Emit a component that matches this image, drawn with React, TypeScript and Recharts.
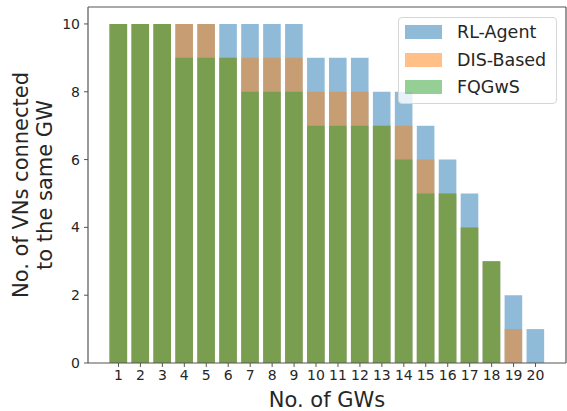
import { BarChart, Bar, XAxis, YAxis, Legend } from "recharts";

const GWS = ["1", "2", "3", "4", "5", "6", "7", "8", "9", "10", "11", "12", "13", "14", "15", "16", "17", "18", "19", "20"];
const RL_AGENT = [10, 10, 10, 10, 10, 10, 10, 10, 10, 9, 9, 9, 8, 8, 7, 6, 5, 3, 2, 1];
const DIS_BASED = [10, 10, 10, 10, 10, 9, 9, 9, 9, 8, 8, 8, 7, 7, 6, 5, 4, 3, 1, 0];
const FQGWS = [10, 10, 10, 9, 9, 9, 8, 8, 8, 7, 7, 7, 7, 6, 5, 5, 4, 3, 0, 0];
const Y_TICKS = [0, 2, 4, 6, 8, 10];

const SERIES = [
  { key: "rl", name: "RL-Agent", color: "#1f77b4" },
  { key: "dis", name: "DIS-Based", color: "#ff7f0e" },
  { key: "fq", name: "FQGwS", color: "#2ca02c" },
];

const data = GWS.map((gw, i) => ({
  gw,
  rl: RL_AGENT[i],
  dis: DIS_BASED[i],
  fq: FQGWS[i],
}));

const FONT = "DejaVu Sans, sans-serif";
const TEXT = "#262626";
const SPINE = "#555555";
const BAR_W = 17.6;

function YLabel(props: any) {
  const vb = props.viewBox || { x: 0, y: 7, width: 88, height: 356 };
  const cy = vb.y + vb.height / 2;
  const x1 = vb.x + 28;
  const x2 = vb.x + 52;
  return (
    <g fontFamily={FONT} fontSize={21} fill={TEXT}>
      <text x={x1} y={cy} textAnchor="middle" transform={`rotate(-90 ${x1} ${cy})`}>
        No. of VNs connected
      </text>
      <text x={x2} y={cy} textAnchor="middle" transform={`rotate(-90 ${x2} ${cy})`}>
        to the same GW
      </text>
    </g>
  );
}

function LegendBox() {
  return (
    <div
      style={{
        width: 157,
        height: 85,
        border: "1px solid #d6d6d6",
        borderRadius: 4,
        background: "rgba(255,255,255,0.8)",
        fontFamily: FONT,
        fontSize: 17.5,
        color: TEXT,
        boxSizing: "content-box",
      }}
    >
      {SERIES.map((s, i) => (
        <div
          key={s.key}
          style={{ position: "absolute", left: 7, top: 5 + i * 27.5, height: 20, display: "flex", alignItems: "center" }}
        >
          <div style={{ width: 37, height: 14, background: s.color, opacity: 0.5 }} />
          <span style={{ marginLeft: 15, lineHeight: "20px", whiteSpace: "nowrap" }}>{s.name}</span>
        </div>
      ))}
    </div>
  );
}

export default function App() {
  return (
    <div style={{ width: 567, height: 411 }}>
      <style>{`body{margin:0}`}</style>
      <BarChart
        width={567}
        height={411}
        data={data}
        margin={{ top: 6, right: 0, bottom: 0, left: 0 }}
        barSize={BAR_W}
        barGap={-BAR_W}
      >
        <XAxis
          dataKey="gw"
          height={48}
          padding={{ left: 19.5, right: 19.5 }}
          interval={0}
          tickSize={4}
          tickMargin={3}
          tick={{ fontSize: 14, fill: TEXT, fontFamily: FONT }}
          tickLine={{ stroke: SPINE }}
          axisLine={{ stroke: SPINE, strokeWidth: 1.2 }}
          label={{ value: "No. of GWs", position: "insideBottom", offset: 4, fontSize: 21, fill: TEXT, fontFamily: FONT }}
        />
        <XAxis xAxisId="top" dataKey="gw" orientation="top" height={1} tick={false} tickLine={false} axisLine={{ stroke: SPINE, strokeWidth: 1.2 }} />
        <YAxis
          width={88}
          domain={[0, 10.5]}
          ticks={Y_TICKS}
          allowDataOverflow
          tickSize={4}
          tickMargin={4}
          tick={{ fontSize: 14, fill: TEXT, fontFamily: FONT }}
          tickLine={{ stroke: SPINE }}
          axisLine={{ stroke: SPINE, strokeWidth: 1.2 }}
          label={<YLabel />}
        />
        <YAxis yAxisId="right" orientation="right" width={1} tick={false} tickLine={false} axisLine={{ stroke: SPINE, strokeWidth: 1.2 }} />
        <Legend
          layout="vertical"
          align="center"
          verticalAlign="middle"
          content={() => <LegendBox />}
          wrapperStyle={{ left: 398, top: 17, width: 159, height: 87 }}
        />
        {SERIES.map((s) => (
          <Bar
            key={s.key}
            dataKey={s.key}
            name={s.name}
            fill={s.color}
            fillOpacity={0.5}
            isAnimationActive={false}
          />
        ))}
      </BarChart>
    </div>
  );
}
